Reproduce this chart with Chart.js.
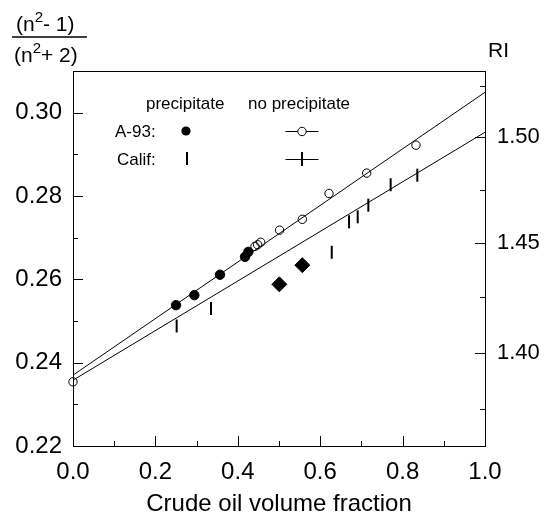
<!DOCTYPE html>
<html><head><meta charset="utf-8">
<script src="https://cdn.jsdelivr.net/npm/chart.js@4"></script>
<style>html,body{margin:0;padding:0;background:#fff}#wrap{width:548px;height:520px;position:relative}</style>
</head><body><div id="wrap"><canvas id="c"></canvas></div>
<script>
const FONT = '"Liberation Sans", Arial, Helvetica, sans-serif';

// ---- data ----
const a93PrecipX = [0.250, 0.2945, 0.3568, 0.4175, 0.4256];
const a93PrecipY = [0.2538, 0.2562, 0.2611, 0.2654, 0.2666];
const a93NoPrecipX = [0.0, 0.4417, 0.4482, 0.4555, 0.5014, 0.5566, 0.6214, 0.7128, 0.8325];
const a93NoPrecipY = [0.2354, 0.2679, 0.2683, 0.2689, 0.2718, 0.2744, 0.2806, 0.2855, 0.2922];
const califPrecipX = [0.2516, 0.335, 0.628, 0.670, 0.691];
const califPrecipY = [0.2488, 0.2530, 0.2665, 0.2738, 0.2750];
const califNoPrecipX = [0.7168, 0.771, 0.8357];
const califNoPrecipY = [0.2778, 0.2827, 0.2850];
const diamondX = [0.5008, 0.5566];
const diamondY = [0.2588, 0.2634];
const upperLineX = [0.0, 1.0];
const upperLineY = [0.2370, 0.3049];
const lowerLineX = [0.0, 1.0];
const lowerLineY = [0.2358, 0.2953];

const xTickLabels = ['0.0', '0.2', '0.4', '0.6', '0.8', '1.0'];
const yTickLabels = ['0.22', '0.24', '0.26', '0.28', '0.30'];
const riTicks = [1.375, 1.40, 1.425, 1.45, 1.475, 1.50, 1.525];
const riTickLabels = ['1.40', '1.45', '1.50'];

const ll = n => (n * n - 1) / (n * n + 2);
const pts = (xs, ys) => xs.map((x, i) => ({x: x, y: ys[i]}));

const decor = {
  id: 'decor',
  afterDraw(chart) {
    const ctx = chart.ctx, a = chart.chartArea;
    const sx = chart.scales.x, sy = chart.scales.y, sr = chart.scales.y2;
    ctx.save();
    ctx.strokeStyle = '#000';
    ctx.fillStyle = '#000';
    ctx.lineWidth = 1;
    // top border of the frame
    ctx.beginPath();
    ctx.moveTo(a.left, Math.round(a.top) + 0.5);
    ctx.lineTo(a.right + 0.5, Math.round(a.top) + 0.5);
    ctx.stroke();
    // inward ticks
    ctx.beginPath();
    sx.ticks.forEach(t => {
      if (t.value <= 0 || t.value >= 1) return;
      const p = Math.round(sx.getPixelForValue(t.value)) + 0.5;
      const major = xTickLabels.includes(t.value.toFixed(1));
      ctx.moveTo(p, a.bottom); ctx.lineTo(p, a.bottom - (major ? 10 : 5));
    });
    sy.ticks.forEach(t => {
      if (t.value <= 0.2201 || t.value >= 0.3099) return;
      const p = Math.round(sy.getPixelForValue(t.value)) + 0.5;
      const major = yTickLabels.includes(t.value.toFixed(2));
      ctx.moveTo(a.left, p); ctx.lineTo(a.left + (major ? 10 : 5), p);
    });
    riTicks.forEach(n => {
      const p = Math.round(sr.getPixelForValue(ll(n))) + 0.5;
      const major = riTickLabels.includes(n.toFixed(2));
      ctx.moveTo(a.right, p); ctx.lineTo(a.right - (major ? 10 : 5), p);
    });
    ctx.stroke();

    // legend
    ctx.font = '17px ' + FONT;
    ctx.textBaseline = 'alphabetic';
    ctx.textAlign = 'left';
    ctx.fillText('precipitate', 146, 109);
    ctx.fillText('no precipitate', 248, 109);
    ctx.fillText('A-93:', 115, 137);
    ctx.fillText('Calif:', 117, 165);
    ctx.beginPath(); ctx.arc(186, 131, 4.6, 0, Math.PI * 2); ctx.fill();
    ctx.beginPath(); ctx.moveTo(285.5, 131.5); ctx.lineTo(318.5, 131.5); ctx.stroke();
    ctx.beginPath(); ctx.arc(302, 131.5, 4.2, 0, Math.PI * 2);
    ctx.fillStyle = '#fff'; ctx.fill(); ctx.stroke();
    ctx.lineWidth = 2;
    ctx.beginPath(); ctx.moveTo(187, 152); ctx.lineTo(187, 165); ctx.stroke();
    ctx.beginPath(); ctx.moveTo(302, 152); ctx.lineTo(302, 166); ctx.stroke();
    ctx.lineWidth = 1;
    ctx.beginPath(); ctx.moveTo(285.5, 159.5); ctx.lineTo(318.5, 159.5); ctx.stroke();

    // fraction label
    ctx.fillStyle = '#000';
    const drawSup = (parts, x, base) => {
      let cx = x;
      parts.forEach(([txt, sup]) => {
        ctx.font = (sup ? '15px ' : '21px ') + FONT;
        ctx.fillText(txt, cx, sup ? base - 9 : base);
        cx += ctx.measureText(txt).width;
      });
      return cx - x;
    };
    drawSup([['(n', false], ['2', true], ['- 1)', false]], 16, 31);
    drawSup([['(n', false], ['2', true], ['+ 2)', false]], 14, 62);
    ctx.lineWidth = 1.5;
    ctx.beginPath(); ctx.moveTo(12, 37); ctx.lineTo(87, 37); ctx.stroke();
    ctx.font = '21px ' + FONT;
    ctx.fillText('RI', 488, 57);
    ctx.restore();
  }
};

new Chart(document.getElementById('c'), {
  type: 'scatter',
  data: {
    datasets: [
      {label: 'A-93 precipitate', data: pts(a93PrecipX, a93PrecipY), pointStyle: 'circle', pointRadius: 4.7,
        backgroundColor: '#000', borderColor: '#000', borderWidth: 1, clip: false},
      {label: 'A-93 no precipitate', data: pts(a93NoPrecipX, a93NoPrecipY), pointStyle: 'circle', pointRadius: 4.2,
        backgroundColor: 'rgba(255,255,255,0)', borderColor: '#000', borderWidth: 1, clip: false},
      {label: 'Calif precipitate', data: pts(califPrecipX, califPrecipY), pointStyle: 'line', pointRotation: 90,
        pointRadius: 6.5, borderColor: '#000', borderWidth: 2, clip: false},
      {label: 'Calif no precipitate', data: pts(califNoPrecipX, califNoPrecipY), pointStyle: 'line', pointRotation: 90,
        pointRadius: 6.5, borderColor: '#000', borderWidth: 2, clip: false},
      {label: 'other', data: pts(diamondX, diamondY), pointStyle: 'rectRot', pointRadius: 7.5,
        backgroundColor: '#000', borderColor: '#000', borderWidth: 1, clip: false},
      {label: 'fit A-93', type: 'line', data: pts(upperLineX, upperLineY), showLine: true, pointRadius: 0,
        borderColor: '#000', borderWidth: 1, fill: false},
      {label: 'fit Calif', type: 'line', data: pts(lowerLineX, lowerLineY), showLine: true, pointRadius: 0,
        borderColor: '#000', borderWidth: 1, fill: false}
    ]
  },
  options: {
    responsive: true,
    maintainAspectRatio: false,
    animation: false,
    events: [],
    layout: {padding: {top: 71, left: 0, right: 0, bottom: 0}},
    plugins: {legend: {display: false}, title: {display: false}, tooltip: {enabled: false}},
    scales: {
      x: {
        type: 'linear', min: 0, max: 1,
        grid: {display: false, drawTicks: false},
        border: {display: true, color: '#000', width: 1},
        ticks: {stepSize: 0.1, autoSkip: false, maxRotation: 0, padding: 12, color: '#000',
          font: {family: FONT, size: 24},
          callback: v => { const s = Number(v).toFixed(1); return xTickLabels.includes(s) ? s : ''; }},
        title: {display: true, text: 'Crude oil volume fraction', color: '#000',
          font: {family: FONT, size: 24}, padding: {top: 0, bottom: 1}},
        afterFit: s => { s.height = 74; }
      },
      y: {
        type: 'linear', position: 'left', min: 0.22, max: 0.31,
        grid: {display: false, drawTicks: false},
        border: {display: true, color: '#000', width: 1},
        ticks: {stepSize: 0.01, autoSkip: false, padding: 11, color: '#000',
          font: {family: FONT, size: 24},
          callback: v => { const s = Number(v).toFixed(2); return yTickLabels.includes(s) ? s : ''; }},
        afterFit: s => { s.width = 73; }
      },
      y2: {
        type: 'linear', position: 'right', min: 0.22, max: 0.31,
        grid: {display: false, drawTicks: false},
        border: {display: true, color: '#000', width: 1},
        afterBuildTicks: s => { s.ticks = riTicks.map(n => ({value: ll(n)})); },
        ticks: {autoSkip: false, padding: 12, color: '#000',
          font: {family: FONT, size: 22},
          callback: (v, i) => { const s = riTicks[i].toFixed(2); return riTickLabels.includes(s) ? s : ''; }},
        afterFit: s => { s.width = 63; }
      }
    }
  },
  plugins: [decor]
});
</script>
</body></html>
